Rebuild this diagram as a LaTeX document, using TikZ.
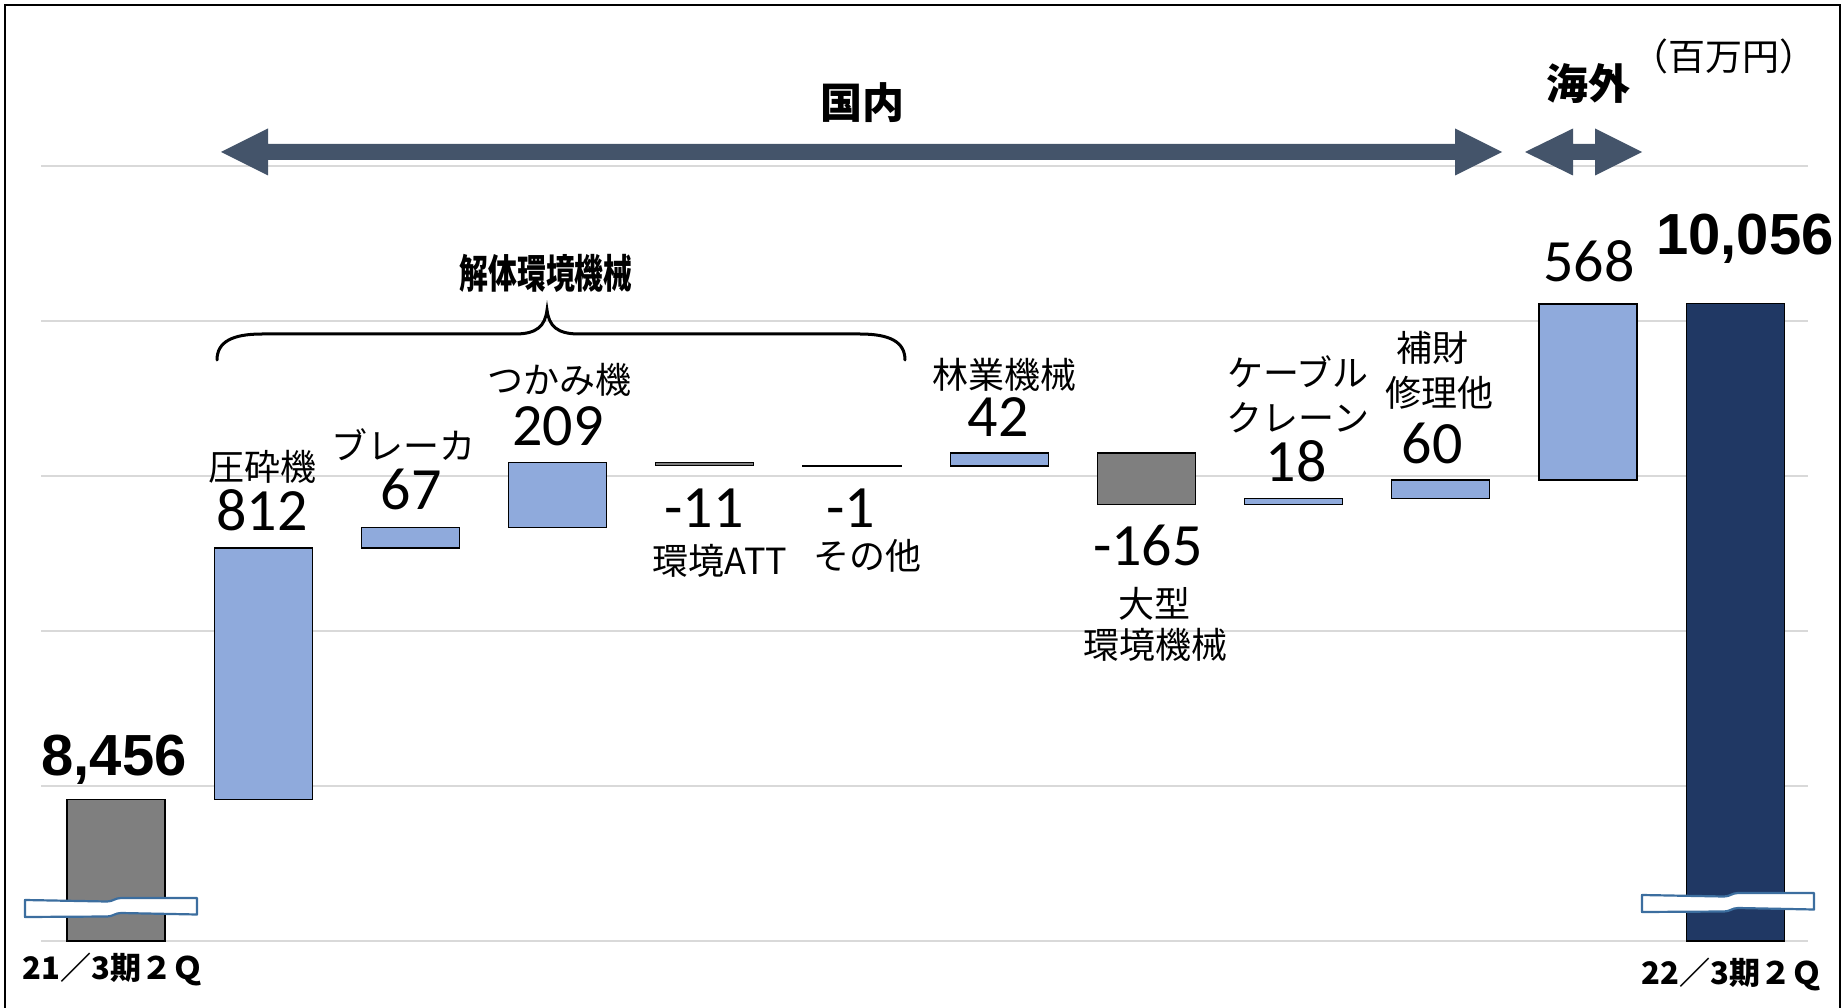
\documentclass[tikz,border=0pt]{standalone}
\usepackage{fontspec}
\setmainfont{Noto Sans CJK JP}
\newfontfamily\cjk{Noto Sans CJK JP}
\newfontfamily\numf{Carlito}
\newfontfamily\bignum{Liberation Sans}
\definecolor{barblue}{HTML}{8FAADC}
\definecolor{bargray}{HTML}{7F7F7F}
\definecolor{barnavy}{HTML}{203864}
\definecolor{arrowc}{HTML}{44546A}
\definecolor{gridc}{HTML}{D9D9D9}
\definecolor{brkc}{HTML}{3C6E9F}
\begin{document}
\begin{tikzpicture}[x=1pt,y=-1pt,
  declare function={vy(\v)=941-(\v-8000)*0.31;},
  bar/.style={draw=black, line width=1.2pt},
  val/.style={font=\numf\fontsize{60}{60}\selectfont, anchor=base, inner sep=0pt},
  lab/.style={font=\cjk\fontsize{36}{40}\selectfont, anchor=base, inner sep=0pt},
  bigval/.style={font=\bignum\bfseries\fontsize{58}{58}\selectfont, anchor=base, inner sep=0pt},
  period/.style={font=\cjk\bfseries\fontsize{31}{33}\selectfont, anchor=base, inner sep=0pt},
  head/.style={font=\cjk\bfseries\fontsize{42}{44}\selectfont, anchor=base, inner sep=0pt},
  brkline/.style={draw=brkc, fill=white, line width=2.2pt, line join=round},
  brk/.pic={\path[brkline] (0,0) -- (82,1.5) .. controls (88,1.5) and (90,-2) .. (96,-2) -- (172,-2) -- (172,14.5) -- (96,13) .. controls (90,13) and (88,16.5) .. (82,16.5) -- (0,17) -- cycle;}
]
\useasboundingbox (0,0) rectangle (1845,1008);
% frame
\draw[line width=2.5pt] (5,1010) -- (5,5) -- (1840,5) -- (1840,1010);
% gridlines
\foreach \g in {941,786,631,476,321,166}
  \draw[gridc, line width=2pt] (41,\g) -- (1808,\g);
% bars
\foreach \i/\a/\b/\c in {0/8000/8456/bargray, 1/8456/9268/barblue, 2/9268/9335/barblue,
   3/9335/9544/barblue, 4/9544/9533/bargray, 5/9533/9532.2/bargray, 6/9532/9574/barblue,
   7/9574/9409/bargray, 8/9409/9427/barblue, 9/9427/9487/barblue, 10/9487/10055/barblue,
   11/8000/10056/barnavy}
  \draw[bar, fill=\c] ({67+147.2*\i},{vy(\a)}) rectangle ({165+147.2*\i},{vy(\b)});
% arrows
\fill[arrowc] (221,152) -- (268,128.5) -- (268,144) -- (1455,144) -- (1455,128.5) -- (1502,152)
  -- (1455,175.5) -- (1455,160) -- (268,160) -- (268,175.5) -- cycle;
\fill[arrowc] (1525,152) -- (1573,128.5) -- (1573,144) -- (1595,144) -- (1595,128.5) -- (1642,152)
  -- (1595,175.5) -- (1595,160) -- (1573,160) -- (1573,175.5) -- cycle;
\node[head] (kokunai) at (862,119) {国内};
\node[head] (kaigai) at (1588,100) {海外};
\node[lab, font=\cjk\fontsize{37}{40}\selectfont] (unit) at (1724,71) {（百万円）};
% brace
\draw[line width=3pt, line cap=round] (217,360) .. controls (217,342) and (232,334) .. (262,334)
  -- (515,334) .. controls (537,334) and (545,326) .. (547,310)
  .. controls (549,326) and (557,334) .. (579,334) -- (860,334)
  .. controls (890,334) and (905,342) .. (905,360);
\node[lab, font=\cjk\bfseries\fontsize{40}{44}\selectfont] (kaitai) at (546,289) {\scalebox{0.72}[1]{解体環境機械}};
% values and labels
\node[bigval] (v0) at (114,775) {8,456};
\node[bigval] (v11) at (1745,255) {10,056};
\node[period] (p0) at (113,979) {21／3期２Ｑ};
\node[period] (p11) at (1732,984) {22／3期２Ｑ};
\node[lab] (l1) at (262,480.5) {圧砕機};
\node[val] (v1) at (262,530) {812};
\node[lab] (l2) at (403,459.5) {ブレーカ};
\node[val] (v2) at (411,509) {67};
\node[lab] (l3) at (559,393.5) {つかみ機};
\node[val] (v3) at (558,445) {209};
\node[val] (v4) at (704,527) {-11};
\node[lab] (l4) at (720,574.5) {環境ATT};
\node[val] (v5) at (851,527) {-1};
\node[lab] (l5) at (867,569.5) {その他};
\node[lab] (l6) at (1004,388.5) {林業機械};
\node[val] (v6) at (998,436) {42};
\node[val] (v7) at (1148,565) {-165};
\node[lab] (l7a) at (1154,617.5) {大型};
\node[lab] (l7b) at (1155,658.5) {環境機械};
\node[lab] (l8a) at (1298,386.5) {ケーブル};
\node[lab] (l8b) at (1298,431.5) {クレーン};
\node[val] (v8) at (1296,481) {18};
\node[lab] (l9a) at (1432,361.5) {補財};
\node[lab] (l9b) at (1439,406.5) {修理他};
\node[val] (v9) at (1432,463) {60};
\node[val] (v10) at (1589,282) {568};
% break marks
\pic (bm1) at (25,900) {brk};
\pic (bm2) at (1642,895) {brk};
\end{tikzpicture}
\end{document}
